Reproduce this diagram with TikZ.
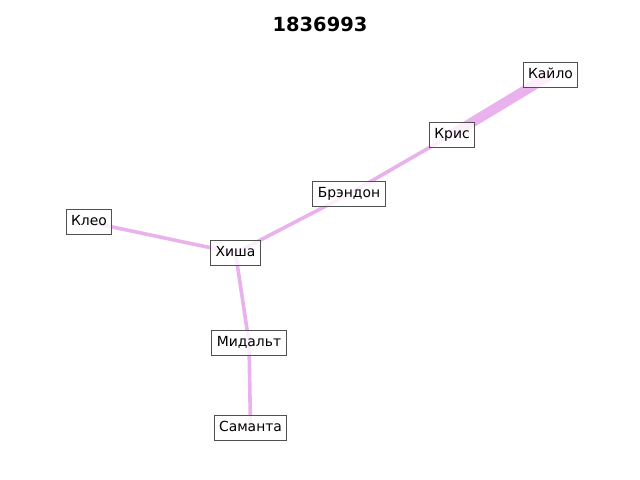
\documentclass[tikz,border=0pt]{standalone}
\usepackage{fontspec}
\setmainfont{DejaVu Sans}
\usetikzlibrary{backgrounds}
\definecolor{edgepink}{RGB}{234,178,236}
\definecolor{boxgray}{RGB}{80,80,80}
\tikzstyle{person} = [
    rectangle,
    draw=boxgray, line width=0.7pt, fill=white, fill opacity=0.8, text opacity=1,
    text height=7.5pt, text depth=2.3pt, inner xsep=3.6pt, inner ysep=4.1pt,
    font=\fontsize{10}{12}\selectfont
]
\tikzstyle{link} = [draw=edgepink, line width=2.6pt]
\tikzstyle{biglink} = [draw=edgepink, line width=7.2pt]

\begin{document}
\begin{tikzpicture}[x=0.72pt, y=-0.72pt]
        \useasboundingbox (0,0) rectangle (640,480);
        % Title
        \node (title) at (320,24) {\fontsize{14}{16}\selectfont\bfseries 1836993};
        % Draw people
        \node (kaylo) [person] at (550.5,75) {Кайло};
        \node (kris) [person] at (452,134.5) {Крис};
        \node (brendon) [person] at (349,194) {Брэндон};
        \node (kleo) [person] at (89,222) {Клео};
        \node (khisha) [person] at (235.5,253) {Хиша};
        \node (midalt) [person] at (249,342.5) {Мидальт};
        \node (samanta) [person] at (250.5,427.5) {Саманта};

        % Draw links
        \begin{pgfonlayer}{background}
        \draw [biglink] (kaylo.center) -- (kris.center);
        \draw [link] (kris.center) -- (brendon.center);
        \draw [link] (brendon.center) -- (khisha.center);
        \draw [link] (kleo.center) -- (khisha.center);
        \draw [link] (khisha.center) -- (midalt.center);
        \draw [link] (midalt.center) -- (samanta.center);
        \end{pgfonlayer}
\end{tikzpicture}
\end{document}
